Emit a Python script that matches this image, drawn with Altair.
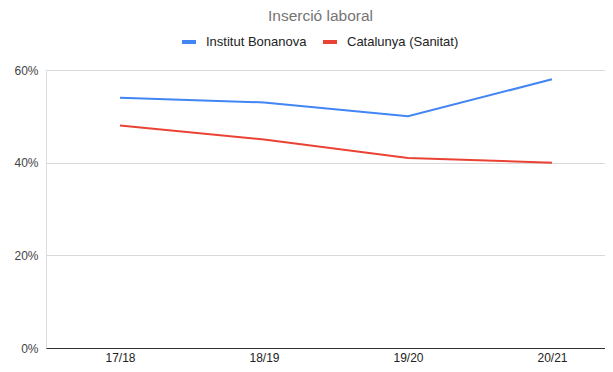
import altair as alt
import pandas as pd

years = ["17/18", "18/19", "19/20", "20/21"]
series_names = ["Institut Bonanova", "Catalunya (Sanitat)"]
bonanova = [0.54, 0.53, 0.50, 0.58]
catalunya = [0.48, 0.45, 0.41, 0.40]
colors = ["#4285F4", "#EA4335"]
y_ticks = [0, 0.2, 0.4, 0.6]

rows = []
for name, vals in zip(series_names, [bonanova, catalunya]):
    for i, (y, v) in enumerate(zip(years, vals)):
        rows.append({"idx": i, "curs": y, "serie": name, "valor": v})
df = pd.DataFrame(rows)

FONT = "Liberation Sans"
W, H = 559, 278

label_expr = "[" + ",".join("'%s'" % y for y in years) + "][datum.value]"

chart = alt.Chart(df).mark_line(strokeWidth=2).encode(
    x=alt.X("idx:Q",
            scale=alt.Scale(domain=[-0.514, 3.368], nice=False, zero=False),
            axis=alt.Axis(title=None, values=list(range(len(years))), labelExpr=label_expr,
                          ticks=False, domain=True, domainColor="#333333",
                          labelColor="#222222", labelFontSize=12, labelPadding=4,
                          grid=False, labelFlush=False)),
    y=alt.Y("valor:Q", scale=alt.Scale(domain=[0, 0.6], nice=False),
            axis=alt.Axis(title=None, values=y_ticks, format=".0%", ticks=False,
                          domain=False, labelColor="#444444", labelFontSize=12,
                          labelPadding=8, grid=True, gridColor="#d9d9d9")),
    color=alt.Color("serie:N",
                    scale=alt.Scale(domain=series_names, range=colors),
                    legend=alt.Legend(title=None, orient="none", direction="horizontal",
                                      legendX=134, legendY=-37, symbolType="stroke",
                                      symbolStrokeWidth=4, symbolSize=196,
                                      labelFontSize=13, labelColor="#222222",
                                      labelOffset=8, columnPadding=8)),
    order="idx:Q",
).properties(
    width=W, height=H,
    title=alt.TitleParams("Inserció laboral", fontSize=15.5, fontWeight="normal",
                          color="#757575", anchor="middle", dx=-5, dy=-5),
    autosize=alt.AutoSizeParams(type="none"),
    padding={"left": 38, "top": 62, "right": 0, "bottom": 16},
).configure_view(strokeWidth=0, stroke="transparent").configure_axisY(
    domain=False
).configure_axisX(grid=False).configure(font=FONT)

chart.save("out.html", embed_options={"renderer": "svg", "actions": False})
